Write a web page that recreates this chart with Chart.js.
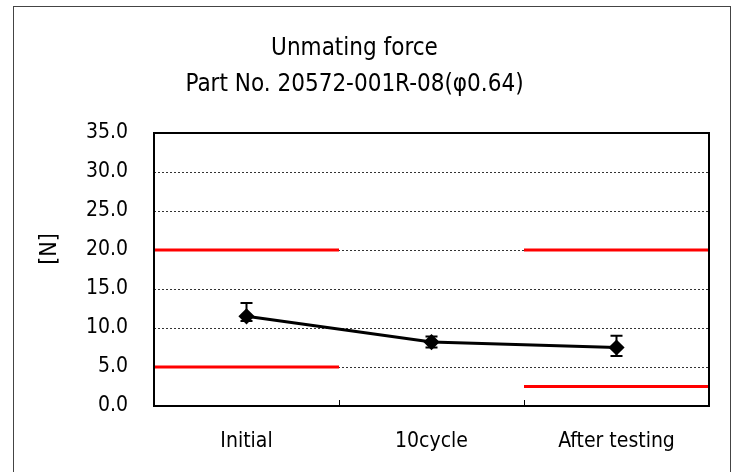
<!DOCTYPE html>
<html>
<head>
<meta charset="utf-8">
<script src="https://cdn.jsdelivr.net/npm/chart.js@4/dist/chart.umd.min.js"></script>
<style>
  html, body { margin: 0; padding: 0; background: #fff; }
  #wrap { position: relative; width: 739px; height: 472px; }
  #frame { position: absolute; left: 13px; top: 6px; width: 718px; height: 480px; border: 1.5px solid #444; box-sizing: border-box; }
  canvas { position: absolute; left: 0; top: 0; }
</style>
</head>
<body>
<div id="wrap">
  <div id="frame"></div>
  <canvas id="chart" width="739" height="472"></canvas>
</div>
<script>
  const categories = ['Initial', '10cycle', 'After testing'];
  const meanValues = [11.5, 8.2, 7.5];
  const maxValues = [13.2, 8.9, 9.0];
  const minValues = [10.9, 7.5, 6.4];
  const upperLimit = [20, null, 20];
  const lowerLimit = [5, null, 2.5];
  const yTicks = [0, 5, 10, 15, 20, 25, 30, 35];
  const yTitle = '[N]';

  const fontFamily = "'Liberation Sans Narrow', 'DejaVu Sans Condensed', 'Liberation Sans', sans-serif";

  function limitSegments(limits) {
    const sets = [];
    limits.forEach((v, i) => {
      if (v === null) return;
      sets.push({
        data: [{ x: i - 0.5, y: v }, { x: i + 0.5, y: v }],
        borderColor: '#ff0000',
        borderWidth: 3,
        pointRadius: 0,
        order: 2
      });
    });
    return sets;
  }

  const framePlugin = {
    id: 'frame',
    afterDatasetsDraw(chart) {
      const { ctx, chartArea, scales } = chart;
      ctx.save();
      // error bars (min / max)
      ctx.strokeStyle = '#000';
      ctx.lineWidth = 2;
      meanValues.forEach((m, i) => {
        const x = scales.x.getPixelForValue(i);
        const yTop = scales.y.getPixelForValue(maxValues[i]);
        const yBot = scales.y.getPixelForValue(minValues[i]);
        ctx.beginPath();
        ctx.moveTo(x, yTop); ctx.lineTo(x, yBot);
        ctx.moveTo(x - 6, yTop); ctx.lineTo(x + 6, yTop);
        ctx.moveTo(x - 6, yBot); ctx.lineTo(x + 6, yBot);
        ctx.stroke();
      });
      // plot frame
      ctx.lineWidth = 2;
      ctx.strokeRect(chartArea.left, chartArea.top, chartArea.right - chartArea.left, chartArea.bottom - chartArea.top);
      // category divider ticks
      ctx.lineWidth = 1;
      for (let i = 0; i < categories.length - 1; i++) {
        const x = Math.round(scales.x.getPixelForValue(i + 0.5)) + 0.5;
        ctx.beginPath();
        ctx.moveTo(x, chartArea.bottom);
        ctx.lineTo(x, chartArea.bottom - 6);
        ctx.stroke();
      }
      // y axis title
      ctx.translate(50, 249);
      ctx.rotate(-Math.PI / 2);
      ctx.fillStyle = '#000';
      ctx.font = '23px ' + fontFamily;
      ctx.textAlign = 'center';
      ctx.textBaseline = 'middle';
      ctx.fillText(yTitle, 0, 0);
      ctx.restore();
    }
  };

  const ctx = document.getElementById('chart').getContext('2d');
  new Chart(ctx, {
    type: 'line',
    data: {
      datasets: [
        {
          data: meanValues.map((v, i) => ({ x: i, y: v })),
          borderColor: '#000',
          borderWidth: 3,
          pointStyle: 'rectRot',
          pointRadius: 6,
          pointBackgroundColor: '#000',
          pointBorderColor: '#000',
          order: 1
        },
        ...limitSegments(upperLimit),
        ...limitSegments(lowerLimit)
      ]
    },
    options: {
      responsive: false,
      animation: false,
      layout: { padding: { left: 0, right: 30, top: 0, bottom: 0 } },
      plugins: {
        legend: { display: false },
        tooltip: { enabled: false },
        title: {
          display: true,
          text: ['Unmating force', 'Part No. 20572-001R-08(φ0.64)'],
          color: '#000',
          font: { family: fontFamily, size: 24, weight: 'normal', lineHeight: 1.5 },
          padding: { top: 31, bottom: 30 }
        }
      },
      scales: {
        x: {
          type: 'linear',
          min: -0.5,
          max: 2.5,
          afterBuildTicks: scale => { scale.ticks = categories.map((c, i) => ({ value: i })); },
          afterFit: scale => { scale.height = 66; },
          grid: { display: false, drawTicks: false },
          border: { display: false },
          ticks: {
            color: '#000',
            padding: 23,
            font: { family: fontFamily, size: 21 },
            callback: value => categories[value]
          }
        },
        y: {
          min: 0,
          max: 35,
          afterBuildTicks: scale => { scale.ticks = yTicks.map(v => ({ value: v })); },
          afterFit: scale => { scale.width = 154; },
          grid: {
            drawTicks: false,
            color: c => (c.tick && c.tick.value > 0 && c.tick.value < 35) ? '#333' : 'rgba(0,0,0,0)',
            lineWidth: 1
          },
          border: { display: false, dash: [2, 2] },
          ticks: {
            color: '#000',
            padding: 26,
            font: { family: fontFamily, size: 21 },
            callback: value => value.toFixed(1)
          }
        }
      }
    },
    plugins: [framePlugin]
  });
</script>
</body>
</html>
